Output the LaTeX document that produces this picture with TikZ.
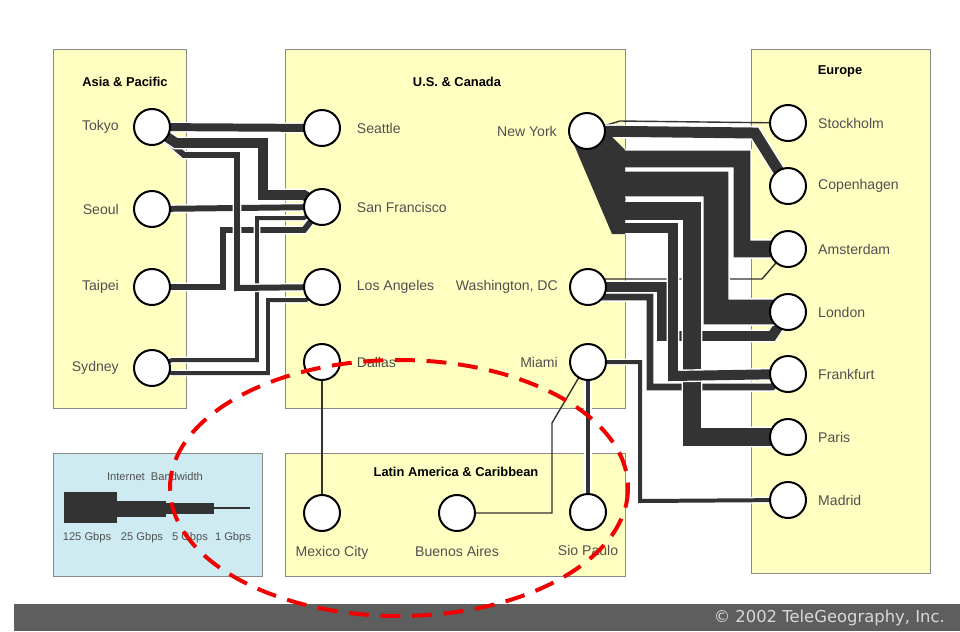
\documentclass[tikz,border=0pt]{standalone}
\usepackage{fontspec}
\setmainfont{Liberation Sans}
\newfontfamily\creditfont{DejaVu Sans}
\usetikzlibrary{positioning, backgrounds}
\definecolor{regionYellow}{HTML}{FFFFC2}
\definecolor{legendBlue}{HTML}{CDEBF1}
\definecolor{regionEdge}{HTML}{8A8A8A}
\definecolor{linkGray}{HTML}{333333}
\definecolor{labelGray}{HTML}{505050}
\definecolor{footerGray}{HTML}{5E5E5E}
\definecolor{creditGray}{HTML}{D8D8D8}
\definecolor{ringRed}{HTML}{F00000}

\begin{document}
\begin{tikzpicture}[
    x=0.03cm, y=-0.03cm,
    region/.style={draw=regionEdge, fill=regionYellow, line width=0.8pt},
    city/.style={circle, draw=black, fill=white, line width=1.7pt, minimum size=1.08cm, inner sep=0pt, outer sep=0pt},
    lbl/.style={inner sep=0pt, text=labelGray, font=\fontsize{12}{14}\selectfont},
    regiontitle/.style={inner sep=0pt, font=\fontsize{11}{13}\selectfont\bfseries},
    bwlbl/.style={inner sep=0pt, text=labelGray, font=\fontsize{9.5}{11}\selectfont},
    link/.style={draw=linkGray, line width=#1*0.85pt, preaction={draw=white, line width=#1*0.85pt+2.4pt}},
    hair/.style={draw=linkGray, line width=1.2pt}
]
    \useasboundingbox (0,0) rectangle (960,631);

    % Asia & Pacific cities
    \node[city] (Tokyo) at (152,127) {};
    \node[city] (Seoul) at (152,209) {};
    \node[city] (Taipei) at (152,287) {};
    \node[city] (Sydney) at (152,368) {};

    % U.S. & Canada cities
    \node[city] (Seattle) at (322,128) {};
    \node[city] (SanFrancisco) at (322,207) {};
    \node[city] (LosAngeles) at (322,287) {};
    \node[city] (Dallas) at (322,362) {};
    \node[city] (NewYork) at (587,131) {};
    \node[city] (Washington) at (588,287) {};
    \node[city] (Miami) at (588,362) {};

    % Europe cities
    \node[city] (Stockholm) at (788,123) {};
    \node[city] (Copenhagen) at (788,186) {};
    \node[city] (Amsterdam) at (788,249) {};
    \node[city] (London) at (788,312) {};
    \node[city] (Frankfurt) at (788,374) {};
    \node[city] (Paris) at (788,437) {};
    \node[city] (Madrid) at (788,500) {};

    % Latin America cities
    \node[city] (MexicoCity) at (322,513) {};
    \node[city] (BuenosAires) at (457,513) {};
    \node[city] (SaoPaulo) at (588,512) {};

    \begin{scope}[on background layer]
        % Region boxes
        \draw[region] (53,49) rectangle (186,408);
        \draw[region] (285,49) rectangle (625,408);
        \draw[region] (751,49) rectangle (930,573);
        \draw[region] (285,453) rectangle (625,576);
        \draw[region, fill=legendBlue] (53,453) rectangle (262,576);

        % Asia to U.S. links
        \draw[link=6] (Seoul.center) -- (SanFrancisco.center);
        \draw[link=6] (Taipei.center) -- (223,287) -- (223,230) -- (304,230) -- (SanFrancisco.center);
        \draw[link=4] (Sydney.center) -- (172,360) -- (257,360) -- (257,218) -- (304,218) -- (SanFrancisco.center);
        \draw[link=4] (Sydney.center) -- (172,373) -- (268,373) -- (268,300) -- (306,300) -- (LosAngeles.center);
        \draw[link=6] (Tokyo.center) -- (184,155) -- (237,155) -- (237,288) -- (LosAngeles.center);
        \draw[link=10] (Tokyo.center) -- (176,143) -- (263,143) -- (263,195) -- (304,195) -- (SanFrancisco.center);
        \draw[link=8] (Tokyo.center) -- (Seattle.center);

        % U.S. to Europe links
        \draw[link=7] (Washington.center) -- (600,297) -- (650,297) -- (650,387) -- (772,387) -- (Frankfurt.center);
        \draw[link=10] (Washington.center) -- (662,287) -- (662,336) -- (772,336) -- (London.center);
        \draw[hair] (Washington.center) -- (604,279) -- (762,279) -- (Amsterdam.center);
        \draw[link=4] (Miami.center) -- (640,362) -- (640,501) -- (Madrid.center);
        \draw[hair] (NewYork.center) -- (620,121) -- (Stockholm.center);
        \draw[link=11] (NewYork.center) -- (755,133) -- (Copenhagen.center);
        \draw[link=17] (NewYork.center) -- (618,159) -- (742,159) -- (742,249) -- (Amsterdam.center);
        \draw[link=25] (NewYork.center) -- (618,184) -- (716,184) -- (716,312) -- (London.center);
        \draw[link=18] (NewYork.center) -- (618,211) -- (692,211) -- (692,437) -- (Paris.center);
        \draw[link=10] (NewYork.center) -- (618,228) -- (673,228) -- (673,376) -- (Frankfurt.center);
        \fill[linkGray] (572,140) -- (612,234) -- (625,234) -- (625,150) -- (600,125) -- cycle;

        % U.S. to Latin America links
        \draw[link=5] (Miami.center) -- (SaoPaulo.center);
        \draw[hair] (Miami.center) -- (552,423) -- (552,513) -- (BuenosAires.center);
        \draw[hair] (Dallas.center) -- (MexicoCity.center);
    \end{scope}

    % Region titles
    \node[regiontitle] (asiaTitle) at (125,82) {Asia \& Pacific};
    \node[regiontitle] (usTitle) at (457,82) {U.S. \& Canada};
    \node[regiontitle] (euTitle) at (840,71) {Europe};
    \node[regiontitle] (latinTitle) at (456,472) {Latin America \& Caribbean};

    % City labels
    \node[lbl, left=0.45cm of Tokyo] (TokyoLbl) {Tokyo};
    \node[lbl, left=0.45cm of Seoul] (SeoulLbl) {Seoul};
    \node[lbl, left=0.45cm of Taipei] (TaipeiLbl) {Taipei};
    \node[lbl, left=0.45cm of Sydney] (SydneyLbl) {Sydney};
    \node[lbl, right=0.5cm of Seattle] (SeattleLbl) {Seattle};
    \node[lbl, right=0.5cm of SanFrancisco] (SanFranciscoLbl) {San Francisco};
    \node[lbl, right=0.5cm of LosAngeles] (LosAngelesLbl) {Los Angeles};
    \node[lbl, right=0.5cm of Dallas] (DallasLbl) {Dallas};
    \node[lbl, left=0.36cm of NewYork] (NewYorkLbl) {New York};
    \node[lbl, left=0.36cm of Washington] (WashingtonLbl) {Washington, DC};
    \node[lbl, left=0.36cm of Miami] (MiamiLbl) {Miami};
    \node[lbl, right=0.36cm of Stockholm] (StockholmLbl) {Stockholm};
    \node[lbl, right=0.36cm of Copenhagen] (CopenhagenLbl) {Copenhagen};
    \node[lbl, right=0.36cm of Amsterdam] (AmsterdamLbl) {Amsterdam};
    \node[lbl, right=0.36cm of London] (LondonLbl) {London};
    \node[lbl, right=0.36cm of Frankfurt] (FrankfurtLbl) {Frankfurt};
    \node[lbl, right=0.36cm of Paris] (ParisLbl) {Paris};
    \node[lbl, right=0.36cm of Madrid] (MadridLbl) {Madrid};
    \node[lbl, below=0.45cm of MexicoCity, xshift=0.3cm] (MexicoCityLbl) {Mexico City};
    \node[lbl, below=0.45cm of BuenosAires] (BuenosAiresLbl) {Buenos Aires};
    \node[lbl, below=0.45cm of SaoPaulo] (SaoPauloLbl) {Sio Paulo};

    % Bandwidth legend
    \node[bwlbl] (bwTitle) at (155,477) {Internet\ \ Bandwidth};
    \fill[linkGray] (64,492) rectangle (117,523);
    \fill[linkGray] (117,501) rectangle (166,517);
    \fill[linkGray] (166,503) rectangle (214,514);
    \draw[linkGray, line width=0.9pt] (214,508) -- (250,508);
    \node[bwlbl] (bw125) at (87,538) {125 Gbps};
    \node[bwlbl] (bw25) at (142,538) {25 Gbps};
    \node[bwlbl] (bw5) at (190,538) {5 Gbps};
    \node[bwlbl] (bw1) at (233,538) {1 Gbps};

    % Footer
    \fill[footerGray] (14,604) rectangle (960,631);
    \node[anchor=east, inner sep=0pt, text=creditGray, font=\creditfont\fontsize{14}{16}\selectfont] (credit) at (945,618) {© 2002 TeleGeography, Inc.};

    % Highlight ring
    \draw[ringRed, line width=3.4pt, dash pattern=on 17pt off 10pt] (399,488) ellipse [x radius=229, y radius=128];
\end{tikzpicture}
\end{document}
